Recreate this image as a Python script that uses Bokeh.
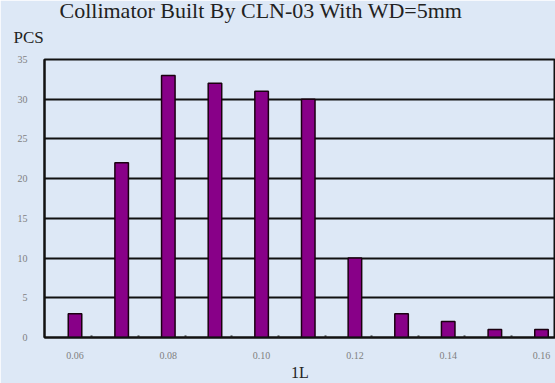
from bokeh.plotting import figure
from bokeh.models import FixedTicker, NumeralTickFormatter, Range1d, ColumnDataSource, Title
from bokeh.embed import file_html
from bokeh.resources import INLINE

# Data
il_values = [0.06, 0.07, 0.08, 0.09, 0.10, 0.11, 0.12, 0.13, 0.14, 0.15, 0.16]
pcs_counts = [3, 22, 33, 32, 31, 30, 10, 3, 2, 1, 1]
x_tick_labels = [0.06, 0.08, 0.10, 0.12, 0.14, 0.16]
y_ticks = [0, 5, 10, 15, 20, 25, 30, 35]
title_text = "Collimator Built By CLN-03 With WD=5mm"
y_title = "PCS"
x_title = "1L"

BG = "#dde8f6"
BAR = "#880088"

x0, x1 = 0.05346, 0.1630
y0, y1 = 0, 35
W, H = 555, 383
left, right, top, bottom = 44, 0, 59, 45

p = figure(width=W, height=H, output_backend="svg", toolbar_location=None,
           x_range=Range1d(x0, x1), y_range=Range1d(y0, y1),
           min_border_left=left, min_border_right=right,
           min_border_top=top, min_border_bottom=bottom)
p.background_fill_color = BG
p.border_fill_color = BG
p.outline_line_color = "#111111"
p.outline_line_width = 2

src = ColumnDataSource(dict(x=il_values, top=pcs_counts))
p.vbar(x="x", top="top", width=0.0029, source=src, fill_color=BAR,
       line_color="#1a0010", line_width=1.5)

p.xgrid.grid_line_color = None
p.ygrid.grid_line_color = "#111111"
p.ygrid.grid_line_width = 2

minor = [v + 0.0036 for v in il_values[:-1]]
p.xaxis.ticker = FixedTicker(ticks=x_tick_labels, minor_ticks=minor)
p.xaxis.formatter = NumeralTickFormatter(format="0.00")
p.xaxis.major_tick_line_color = None
p.xaxis.minor_tick_in = 2
p.xaxis.minor_tick_out = 0
p.xaxis.minor_tick_line_width = 2
p.xaxis.minor_tick_line_color = "#222222"
p.yaxis.ticker = FixedTicker(ticks=y_ticks, minor_ticks=[])
p.yaxis.major_tick_line_color = None
p.yaxis.minor_tick_line_color = None

for ax in (p.xaxis, p.yaxis):
    ax.axis_line_color = "#111111"
    ax.axis_line_width = 2
    ax.major_label_text_font = "Liberation Serif"
    ax.major_label_text_font_size = "10px"
    ax.major_label_text_color = "#808080"
p.xaxis.major_label_standoff = 8
p.yaxis.major_label_standoff = 11

p.xaxis.axis_label = x_title
p.xaxis.axis_label_text_font = "Liberation Serif"
p.xaxis.axis_label_text_font_size = "16px"
p.xaxis.axis_label_text_font_style = "normal"
p.xaxis.axis_label_text_color = "#222222"
p.xaxis.axis_label_standoff = 2

p.title.text = title_text
p.title.text_font = "Liberation Serif"
p.title.text_font_size = "22px"
p.title.text_font_style = "normal"
p.title.text_color = "#222222"
p.title.align = "left"
p.title.offset = 15
p.title.standoff = -20

p.add_layout(Title(text=y_title, text_font="Liberation Serif", text_font_size="17px",
                   text_font_style="normal", text_color="#222222",
                   align="left", offset=-31, standoff=26), "above")

open("out.html", "w").write(file_html(p, INLINE))
